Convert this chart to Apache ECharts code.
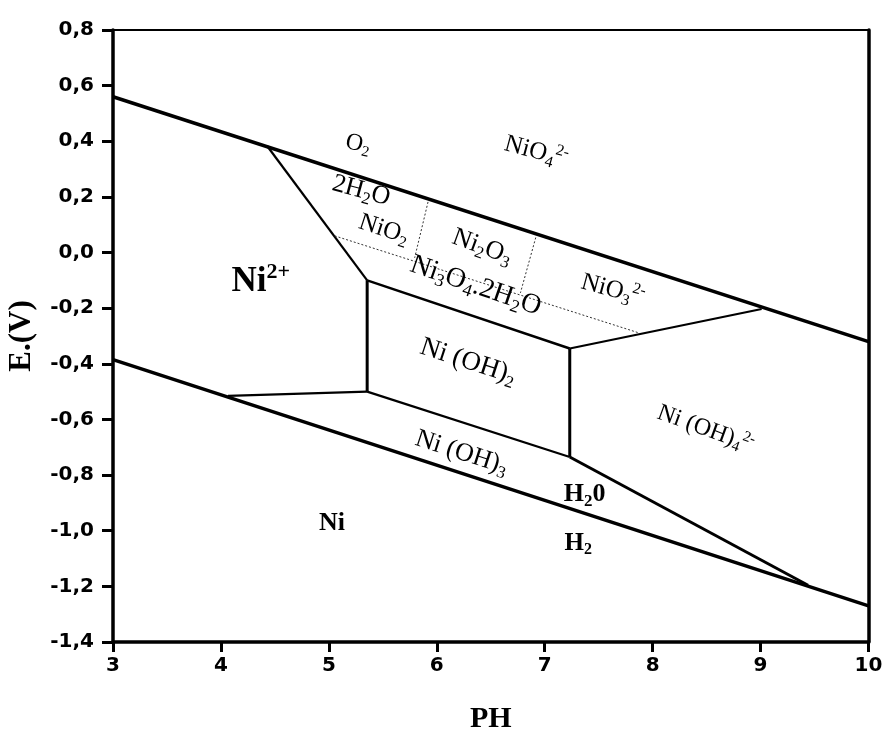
<!DOCTYPE html>
<html>
<head>
<meta charset="utf-8">
<script src="https://cdn.jsdelivr.net/npm/echarts@6/dist/echarts.min.js"></script>
<style>html,body{margin:0;padding:0;background:#fff}#c{width:884px;height:731px}</style>
</head>
<body>
<div id="c"></div>
<script>
// Axis ticks
const xTicks = [3, 4, 5, 6, 7, 8, 9, 10];
const yTicks = [-1.4, -1.2, -1.0, -0.8, -0.6, -0.4, -0.2, 0.0, 0.2, 0.4, 0.6, 0.8];

// Boundary lines [pH, E(V)]
const oxygenLine = [[3, 0.56], [10, -0.32]];
const hydrogenLine = [[3, -0.385], [10, -1.27]];
const ni2UpperBoundary = [[4.43, 0.382], [5.355, -0.10]];
const ni2LowerBoundary = [[4.065, -0.515], [5.355, -0.50]];
const leftVertical = [[5.355, -0.10], [5.355, -0.50]];
const rightVertical = [[7.232, -0.345], [7.232, -0.735]];
const ni3o4Lower = [[5.355, -0.10], [7.232, -0.345]];
const nioh2Lower = [[5.355, -0.50], [7.232, -0.735]];
const nio3Lower = [[7.232, -0.345], [9.01, -0.203]];
const nioh4Lower = [[7.232, -0.735], [9.44, -1.196]];
// Thin dotted separations
const ni3o4Upper = [[5.054, 0.06], [7.866, -0.288]];
const nio2Ni2o3Sep = [[5.919, 0.182], [5.795, -0.019]];
const ni2o3Nio3Sep = [[6.917, 0.054], [6.775, -0.145]];

// Region labels: position [pH, E] and text
const labelPH = [5.27, 6.92, 5.30, 5.51, 6.42, 6.36, 7.63, 4.37, 6.29, 6.23, 8.49, 7.37, 7.31, 5.03];
const labelE = [0.39, 0.362, 0.222, 0.083, 0.02, -0.12, -0.135, -0.105, -0.392, -0.72, -0.635, -0.869, -1.045, -0.973];
const labelText = [
  '{t|O}{sub|2}',
  '{t|NiO}{sub|4}{sup|2-}',
  '{t|2H}{sub|2}{t|O}',
  '{t|NiO}{sub|2}',
  '{t|Ni}{sub|2}{t|O}{sub|3}',
  '{t|Ni}{sub|3}{t|O}{sub|4}{t|.2H}{sub|2}{t|O}',
  '{t|NiO}{sub|3}{sup|2-}',
  '{t|Ni}{sup|2+}',
  '{t|Ni (OH)}{sub|2}',
  '{t|Ni (OH)}{sub|3}',
  '{t|Ni (OH)}{sub|4}{sup|2-}',
  '{t|H}{sub|2}{t|0}',
  '{t|H}{sub|2}',
  '{t|Ni}'
];
// Label styling: [rotation, font size, bold]
const labelStyle = [
  [-12, 24, 0], [-15, 25, 0], [-15, 26, 0], [-18, 25, 0], [-20, 26, 0],
  [-19, 28, 0], [-15, 25, 0], [0, 35, 1], [-18, 27, 0], [-18, 26, 0],
  [-20, 24, 0], [0, 26, 1], [0, 25, 1], [0, 26, 1]
];

const serif = '"Liberation Serif", "DejaVu Serif", serif';
const sans = '"DejaVu Sans", "Liberation Sans", sans-serif';

function makeRich(size, bold) {
  const w = bold ? 'bold' : 'normal';
  const small = Math.round(size * 0.64);
  const shift = Math.round(size * 0.55);
  return {
    t: { fontFamily: serif, fontSize: size, fontWeight: w, color: '#000' },
    sub: { fontFamily: serif, fontSize: small, fontWeight: w, color: '#000', padding: [shift, 0, 0, 0] },
    sup: { fontFamily: serif, fontSize: small, fontWeight: w, color: '#000', padding: [0, 0, shift, 0] }
  };
}

function lineSeries(data, width, dashed) {
  return {
    type: 'line', data: data, symbol: 'none', silent: true, animation: false,
    lineStyle: { color: dashed ? '#333' : '#000', width: width, type: dashed ? [2, 2] : 'solid' },
    z: 3
  };
}

const chart = echarts.init(document.getElementById('c'), null, { renderer: 'canvas' });

const fmt = v => {
  const s = (Math.round(v * 10) / 10).toFixed(1).replace('.', ',');
  return s === '-0,0' ? '0,0' : s;
};

chart.setOption({
  backgroundColor: '#fff',
  animation: false,
  grid: { left: 113, right: 15.5, top: 30, bottom: 89, containLabel: false, outerBoundsMode: 'none' },
  xAxis: [{
    type: 'value', min: xTicks[0], max: xTicks[xTicks.length - 1], interval: 1,
    name: 'PH', nameLocation: 'middle', nameGap: 62,
    nameTextStyle: { fontFamily: serif, fontWeight: 'bold', fontSize: 30, color: '#000' },
    axisLine: { show: true, onZero: false, lineStyle: { color: '#000', width: 3.5 } },
    axisTick: { inside: false, length: 10, lineStyle: { color: '#000', width: 3 } },
    axisLabel: { fontFamily: sans, fontWeight: 'bold', fontSize: 20, color: '#000', margin: 14 },
    splitLine: { show: false }
  }, {
    type: 'value', position: 'top', min: 3, max: 10,
    axisLine: { show: true, onZero: false, lineStyle: { color: '#000', width: 2 } },
    axisTick: { show: false }, axisLabel: { show: false }, splitLine: { show: false }
  }],
  yAxis: [{
    type: 'value', min: yTicks[0], max: yTicks[yTicks.length - 1], interval: 0.2,
    name: 'E.(V)', nameLocation: 'middle', nameGap: 76, nameRotate: 90,
    nameTextStyle: { fontFamily: serif, fontWeight: 'bold', fontSize: 31, color: '#000' },
    axisLine: { show: true, onZero: false, lineStyle: { color: '#000', width: 3.5 } },
    axisTick: { inside: false, length: 11, lineStyle: { color: '#000', width: 3 } },
    axisLabel: { fontFamily: sans, fontWeight: 'bold', fontSize: 20, color: '#000', margin: 19, formatter: fmt },
    splitLine: { show: false }
  }, {
    type: 'value', position: 'right', min: -1.4, max: 0.8,
    axisLine: { show: true, onZero: false, lineStyle: { color: '#000', width: 3.5 } },
    axisTick: { show: false }, axisLabel: { show: false }, splitLine: { show: false }
  }],
  series: [
    lineSeries(oxygenLine, 3.5),
    lineSeries(hydrogenLine, 3.5),
    lineSeries(ni2UpperBoundary, 2.2),
    lineSeries(ni2LowerBoundary, 2.2),
    lineSeries(leftVertical, 3),
    lineSeries(rightVertical, 3),
    lineSeries(ni3o4Lower, 2.5),
    lineSeries(nioh2Lower, 2.2),
    lineSeries(nio3Lower, 2.2),
    lineSeries(nioh4Lower, 3),
    lineSeries(ni3o4Upper, 1, true),
    lineSeries(nio2Ni2o3Sep, 1, true),
    lineSeries(ni2o3Nio3Sep, 1, true),
    {
      type: 'scatter', symbolSize: 0, silent: true, animation: false, z: 5,
      itemStyle: { opacity: 1 },
      data: labelText.map((txt, i) => ({
        value: [labelPH[i], labelE[i]],
        label: {
          formatter: txt,
          rotate: labelStyle[i][0],
          rich: makeRich(labelStyle[i][1], labelStyle[i][2] === 1)
        }
      })),
      label: {
        show: true, position: 'inside', align: 'center', verticalAlign: 'middle',
        color: '#000', opacity: 1
      }
    }
  ]
});
</script>
</body>
</html>
